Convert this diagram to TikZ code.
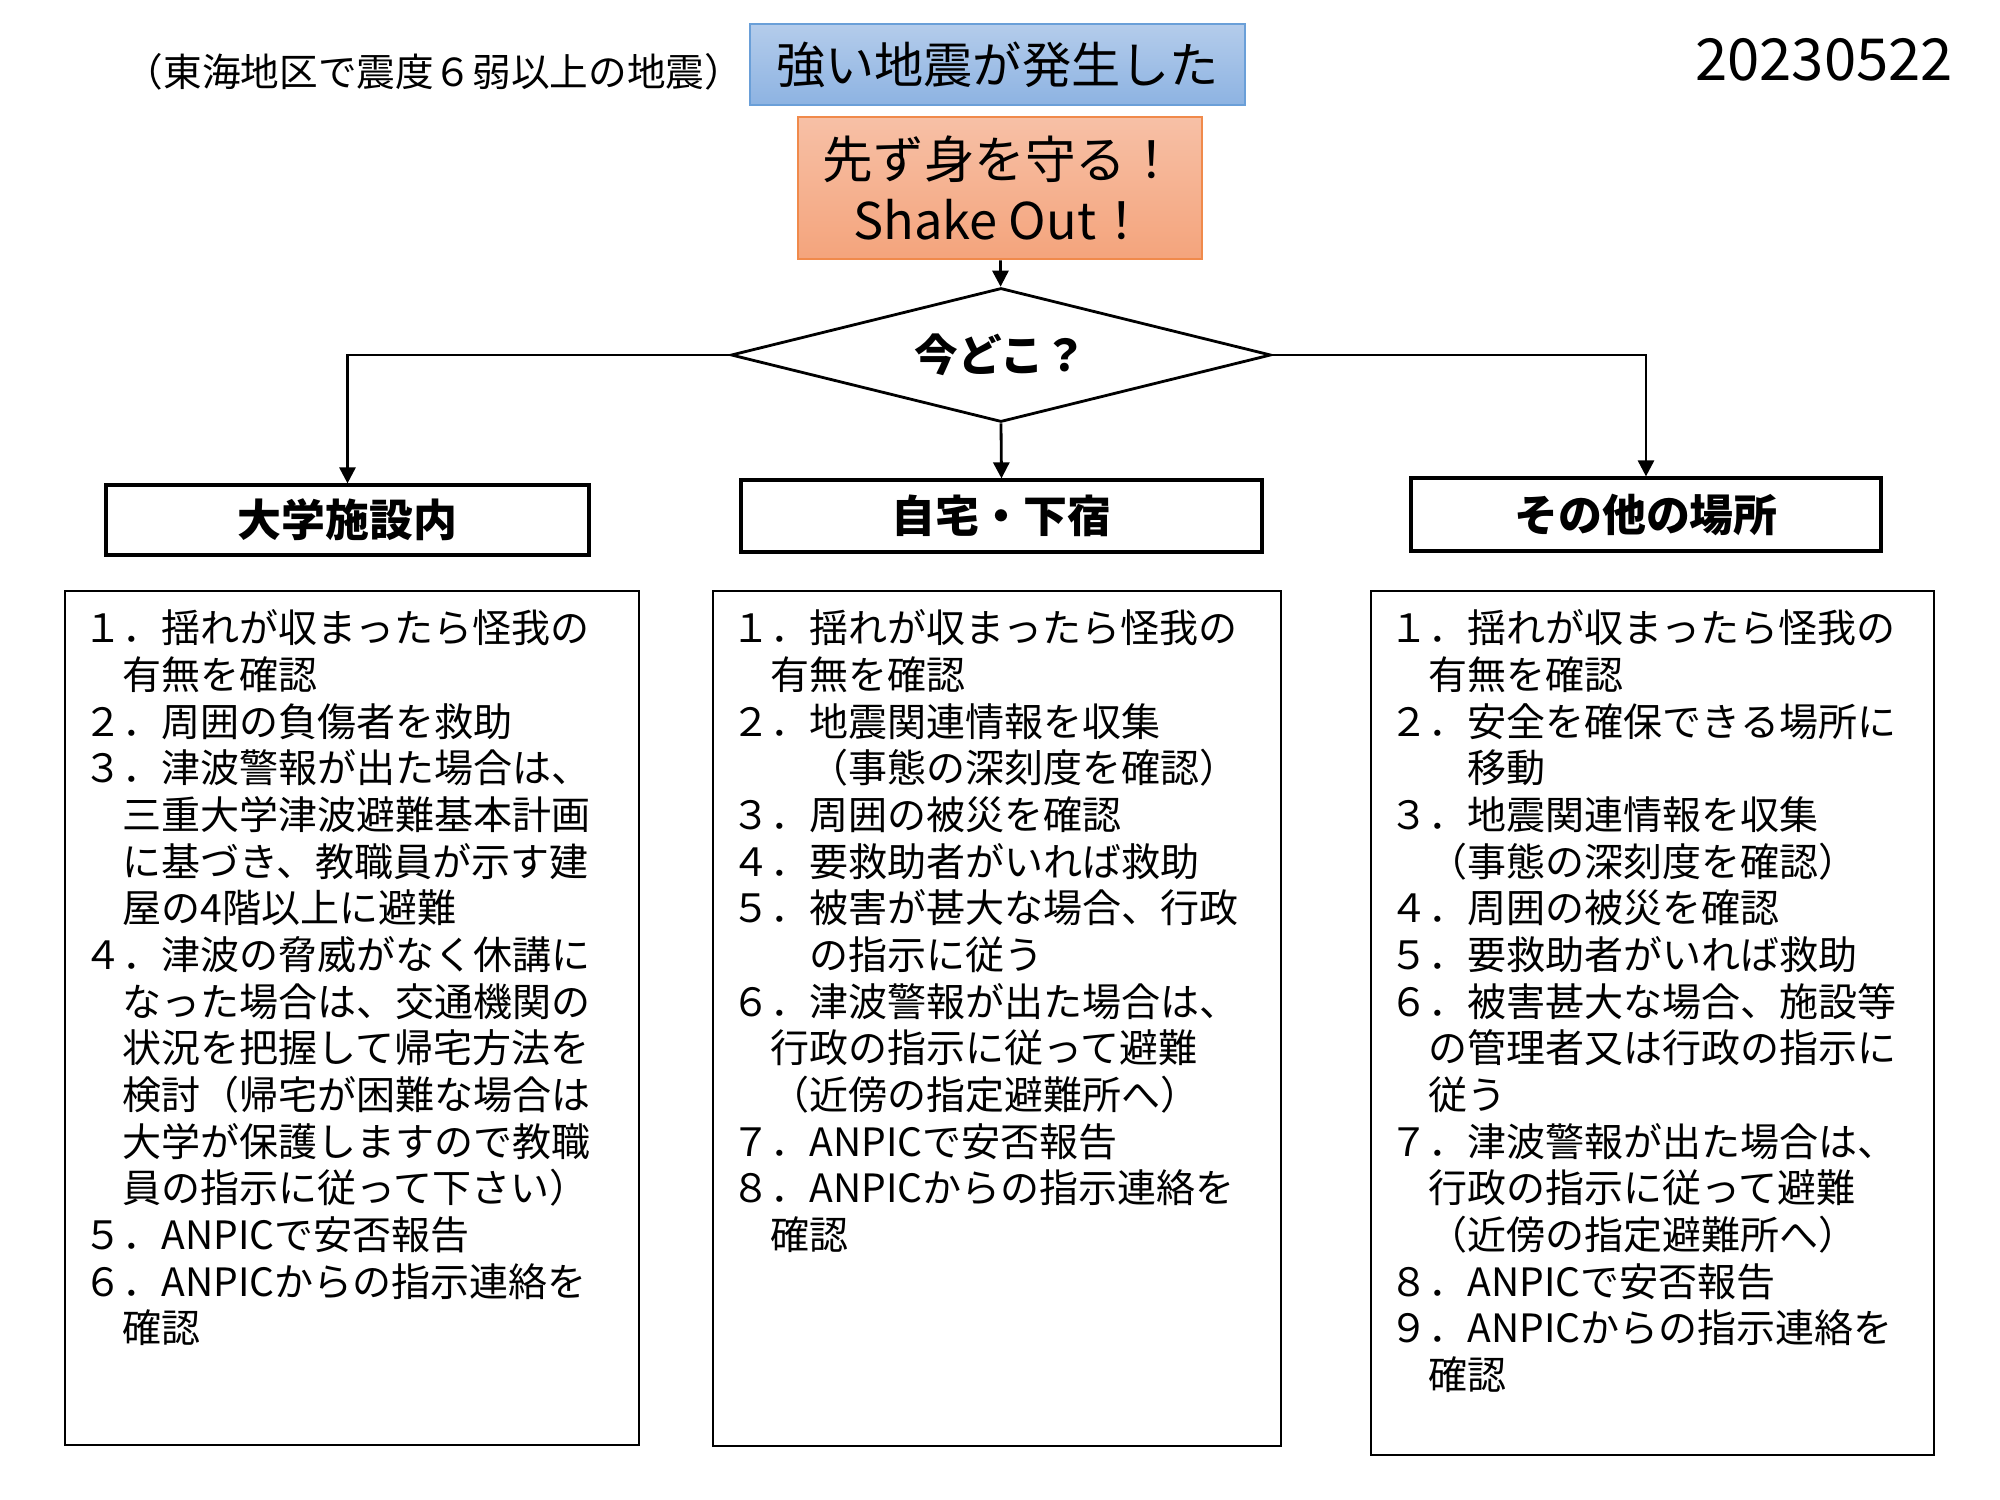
\documentclass[tikz,border=0pt]{standalone}
\usepackage{fontspec}
\setmainfont{Noto Sans CJK JP}
\usetikzlibrary{shapes.geometric, arrows.meta, positioning}
\definecolor{blue1}{RGB}{106, 159, 216}
\definecolor{blue1top}{RGB}{180, 204, 235}
\definecolor{blue1bot}{RGB}{141, 179, 226}
\definecolor{orange1}{RGB}{240, 138, 75}
\definecolor{orange1top}{RGB}{247, 192, 166}
\definecolor{orange1bot}{RGB}{244, 164, 124}

\tikzset{
  placebox/.style={draw, line width=0.9pt, inner sep=0pt, font=\bfseries\fontsize{12.5pt}{15pt}\selectfont},
  listbox/.style={draw, line width=0.8pt, inner sep=0pt},
  listtext/.style={anchor=north west, inner sep=0pt, align=left, font=\fontsize{11.1pt}{13.28pt}\selectfont},
  link/.style={line width=0.8pt, -{Triangle[length=1.6mm, width=1.6mm]}}
}

\begin{document}
\begin{tikzpicture}[x=0.1mm, y=-0.1mm]
  \useasboundingbox (0,0) rectangle (2000,1500);

  % header
  \node[font=\fontsize{11pt}{13pt}\selectfont] (region) at (434,72) {（東海地区で震度６弱以上の地震）};
  \node[draw=blue1, line width=0.8pt, top color=blue1top, bottom color=blue1bot, minimum width=49.5mm, minimum height=8.1mm, inner sep=0pt, font=\fontsize{14pt}{16pt}\selectfont] (quake) at (997.5,64.5) {強い地震が発生した};
  \node[font=\fontsize{16.5pt}{18pt}\selectfont] (date) at (1824,60) {20230522};
  \node[draw=orange1, line width=0.8pt, top color=orange1top, bottom color=orange1bot, minimum width=40.4mm, minimum height=14.2mm, inner sep=0pt, align=center, font=\fontsize{14.4pt}{17.4pt}\selectfont] (shakeout) at (1000,188) {先ず身を守る！\\Shake Out！};

  \node[diamond, draw, aspect=4, line width=0.8pt, inner sep=0pt, minimum width=54mm, minimum height=13.4mm, font=\bfseries\fontsize{12.4pt}{14pt}\selectfont] (where) at (1001,355) {今どこ？};

  % places
  \node[placebox, minimum width=48.3mm, minimum height=7mm] (campus) at (347.5,520) {大学施設内};
  \node[placebox, minimum width=52.1mm, minimum height=7.2mm] (home) at (1001.5,516) {自宅・下宿};
  \node[placebox, minimum width=47mm, minimum height=7.3mm] (other) at (1646,514.5) {その他の場所};

  \draw[link] (shakeout) -- (where);
  \draw[link] (where.west) -| (campus.north);
  \draw[link] (where.south) -- (home.north);
  \draw[link] (where.east) -| (other.north);

  % action lists
  \node[listbox, minimum width=57.4mm, minimum height=85.4mm] (campuslist) at (352,1018) {};
  \node[listbox, minimum width=56.8mm, minimum height=85.5mm] (homelist) at (997,1018.5) {};
  \node[listbox, minimum width=56.3mm, minimum height=86.4mm] (otherlist) at (1652.5,1023) {};

  \node[listtext] (campustext) at (83,609) {１．揺れが収まったら怪我の\\　有無を確認\\２．周囲の負傷者を救助\\３．津波警報が出た場合は、\\　三重大学津波避難基本計画\\　に基づき、教職員が示す建\\　屋の4階以上に避難\\４．津波の脅威がなく休講に\\　なった場合は、交通機関の\\　状況を把握して帰宅方法を\\　検討（帰宅が困難な場合は\\　大学が保護しますので教職\\　員の指示に従って下さい）\\５．ANPICで安否報告\\６．ANPICからの指示連絡を\\　確認};
  \node[listtext] (hometext) at (731,609) {１．揺れが収まったら怪我の\\　有無を確認\\２．地震関連情報を収集\\　　（事態の深刻度を確認）\\３．周囲の被災を確認\\４．要救助者がいれば救助\\５．被害が甚大な場合、行政\\　　の指示に従う\\６．津波警報が出た場合は、\\　行政の指示に従って避難\\　（近傍の指定避難所へ）\\７．ANPICで安否報告\\８．ANPICからの指示連絡を\\　確認};
  \node[listtext] (othertext) at (1389,609) {１．揺れが収まったら怪我の\\　有無を確認\\２．安全を確保できる場所に\\　　移動\\３．地震関連情報を収集\\　（事態の深刻度を確認）\\４．周囲の被災を確認\\５．要救助者がいれば救助\\６．被害甚大な場合、施設等\\　の管理者又は行政の指示に\\　従う\\７．津波警報が出た場合は、\\　行政の指示に従って避難\\　（近傍の指定避難所へ）\\８．ANPICで安否報告\\９．ANPICからの指示連絡を\\　確認};
\end{tikzpicture}
\end{document}
